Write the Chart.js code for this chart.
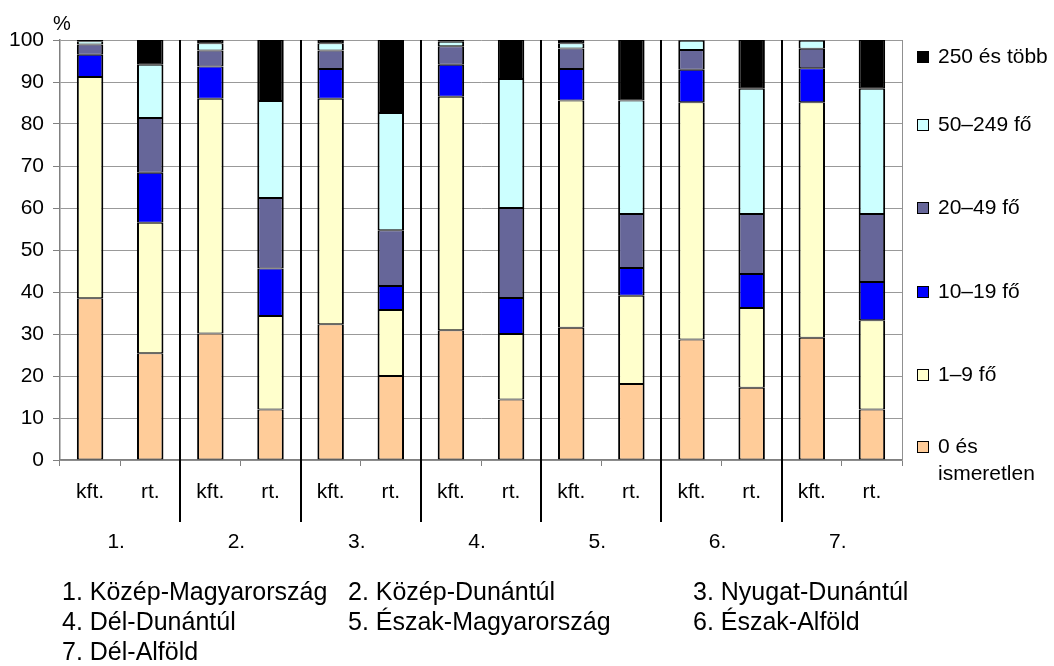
<!DOCTYPE html>
<html>
<head>
<meta charset="utf-8">
<script src="https://cdn.jsdelivr.net/npm/chart.js@4.4.0/dist/chart.umd.min.js"></script>
<style>
body { margin: 0; background: #fff; }
#wrap { position: relative; width: 1054px; height: 666px; font-family: "Liberation Sans", Arial, sans-serif; }
canvas { position: absolute; left: 0; top: 0; }
.note { position: absolute; font-size: 25px; line-height: 25px; white-space: nowrap; color: #000; }
</style>
</head>
<body>
<div id="wrap">
<canvas id="chart" width="1054" height="666"></canvas>
<div class="note" style="left:62px;top:579px">1. Közép-Magyarország</div>
<div class="note" style="left:348px;top:579px">2. Közép-Dunántúl</div>
<div class="note" style="left:693px;top:579px">3. Nyugat-Dunántúl</div>
<div class="note" style="left:62px;top:609px">4. Dél-Dunántúl</div>
<div class="note" style="left:348px;top:609px">5. Észak-Magyarország</div>
<div class="note" style="left:693px;top:609px">6. Észak-Alföld</div>
<div class="note" style="left:62px;top:639px">7. Dél-Alföld</div>
</div>
<script>
const categories = ["kft.", "rt.", "kft.", "rt.", "kft.", "rt.", "kft.", "rt.", "kft.", "rt.", "kft.", "rt.", "kft.", "rt."];
const regions = ["1.", "2.", "3.", "4.", "5.", "6.", "7."];
const seriesNames = [["0 és", "ismeretlen"], ["1–9 fő"], ["10–19 fő"], ["20–49 fő"], ["50–249 fő"], ["250 és több"]];
const yTicks = [0, 10, 20, 30, 40, 50, 60, 70, 80, 90, 100];

const size0 = [38.5, 25.4, 30.1, 12.0, 32.3, 20.0, 30.9, 14.4, 31.5, 18.1, 28.7, 17.2, 29.1, 12.0];
const size1to9 = [52.7, 31.1, 55.9, 22.3, 53.7, 15.7, 55.6, 15.6, 54.1, 21.0, 56.5, 19.0, 56.1, 21.3];
const size10to19 = [5.3, 11.9, 7.7, 11.3, 7.1, 5.7, 7.6, 8.6, 7.5, 6.6, 7.7, 8.1, 8.1, 9.1];
const size20to49 = [2.4, 13.0, 3.8, 16.8, 4.4, 13.3, 4.4, 21.4, 4.9, 12.9, 4.7, 14.3, 4.6, 16.2];
const size50to249 = [0.8, 12.7, 1.7, 23.1, 1.7, 27.9, 1.1, 30.7, 1.2, 27.0, 2.2, 29.8, 1.9, 29.8];
const size250 = [0.3, 5.9, 0.8, 14.5, 0.8, 17.4, 0.4, 9.3, 0.8, 14.4, 0.2, 11.6, 0.2, 11.6];

const colors = ["#FFCC99", "#FFFFCC", "#0000FF", "#666699", "#CCFFFF", "#000000"];
const FONT = '"Liberation Sans", Arial, sans-serif';
// legend row centres, top entry first (layout only)
const legendY = [57, 125, 208, 292, 375, 447];

const series = [size0, size1to9, size10to19, size20to49, size50to249, size250];
const datasets = series.map((values, i) => ({
    label: seriesNames[i].join(" "),
    data: values,
    backgroundColor: colors[i],
    borderColor: "#000",
    borderWidth: {left: 2, right: 2, top: 1, bottom: 1},
    borderSkipped: false,
    categoryPercentage: 1,
    barPercentage: 0.44
}));

// separators, region numbers, "%", legend on the right
const decor = {
    id: "decor",
    afterDraw(chart) {
        const ctx = chart.ctx;
        const area = chart.chartArea;
        const x = chart.scales.x;
        ctx.save();

        ctx.strokeStyle = "#909090";
        ctx.lineWidth = 1;
        ctx.beginPath();
        ctx.moveTo(Math.round(area.right) + 0.5, area.top);
        ctx.lineTo(Math.round(area.right) + 0.5, area.bottom);
        ctx.stroke();

        ctx.strokeStyle = "#000";
        ctx.lineWidth = 2;
        for (let g = 1; g < regions.length; g++) {
            const px = Math.round(x.getPixelForValue(g * 2 - 0.5));
            ctx.beginPath();
            ctx.moveTo(px, area.top);
            ctx.lineTo(px, area.bottom + 62);
            ctx.stroke();
        }

        ctx.fillStyle = "#000";
        ctx.font = "21px " + FONT;
        ctx.textAlign = "center";
        ctx.textBaseline = "middle";
        regions.forEach((r, g) => {
            ctx.fillText(r, x.getPixelForValue(g * 2 + 0.5) - 4, 542);
        });

        ctx.font = "20px " + FONT;
        ctx.fillText("%", 62, 24);

        ctx.textAlign = "left";
        ctx.font = "21px " + FONT;
        ctx.lineWidth = 1;
        for (let k = 0; k < seriesNames.length; k++) {
            const i = seriesNames.length - 1 - k;
            const cy = legendY[k];
            ctx.fillStyle = colors[i];
            ctx.fillRect(917, cy - 5, 11, 11);
            ctx.strokeStyle = "#000";
            ctx.strokeRect(917.5, cy - 5.5, 11, 11);
            ctx.fillStyle = "#000";
            seriesNames[i].forEach((line, j) => {
                ctx.fillText(line, 938, cy + j * 27);
            });
        }
        ctx.restore();
    }
};

new Chart(document.getElementById("chart"), {
    type: "bar",
    data: {labels: categories, datasets: datasets},
    plugins: [decor],
    options: {
        responsive: false,
        animation: false,
        layout: {padding: {left: 0, top: 40, right: 152, bottom: 0}},
        plugins: {legend: {display: false}, tooltip: {enabled: false}},
        scales: {
            x: {
                stacked: true,
                offset: true,
                grid: {offset: true, drawOnChartArea: false, tickLength: 6, tickColor: "#808080"},
                border: {color: "#808080", width: 1.5},
                ticks: {color: "#000", font: {family: FONT, size: 21}, padding: 14, maxRotation: 0, autoSkip: false},
                afterFit(scale) { scale.height = 206; }
            },
            y: {
                stacked: true,
                min: 0,
                max: 100,
                afterBuildTicks(scale) { scale.ticks = yTicks.map(v => ({value: v})); },
                grid: {color: "#999999", lineWidth: 1, tickLength: 7, tickColor: "#808080"},
                border: {color: "#808080", width: 1.5},
                ticks: {color: "#000", font: {family: FONT, size: 21}, padding: 9},
                afterFit(scale) { scale.width = 60; }
            }
        }
    }
});
</script>
</body>
</html>
